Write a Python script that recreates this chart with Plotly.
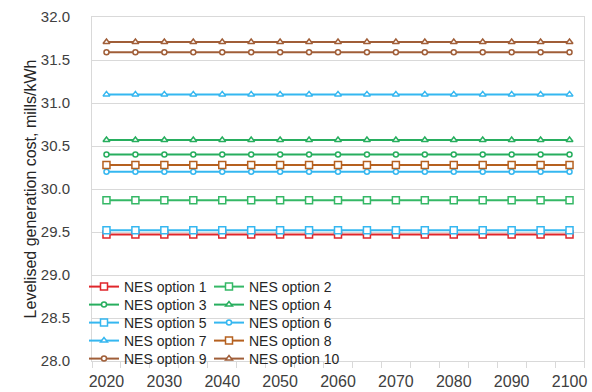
import plotly.graph_objects as go

# Years on the category axis (every 5 years)
years = list(range(2020, 2101, 5))

# Levelised generation cost for each option (flat over time), mills/kWh
option_names = [f"NES option {i}" for i in range(1, 11)]
option_costs = [29.47, 29.87, 30.40, 30.57, 29.52, 30.20, 31.10, 30.28, 31.59, 31.71]

# Styling per option
colors = ["#E0262B", "#35B866", "#27AE5E", "#27AE5E", "#35B7F0",
          "#35B7F0", "#35B7F0", "#B5601F", "#A05E38", "#A05E38"]
symbols = ["square", "square", "circle", "triangle-up", "square",
           "circle", "triangle-up", "square", "circle", "triangle-up"]
sizes = {"square": 7, "circle": 5, "triangle-up": 6}

x_labels = list(range(2020, 2101, 10))
y_ticks = [28.0, 28.5, 29.0, 29.5, 30.0, 30.5, 31.0, 31.5, 32.0]

FONT = "Liberation Sans, Arial, sans-serif"
TEXT = "#404040"
GRID = "#D9D9D9"

# Plot-area geometry in pixels, used to place the legend grid
W, H = 592, 392
M_L, M_R, M_T, M_B = 92, 8, 17, 31
PW, PH = W - M_L - M_R, H - M_T - M_B

# Legend laid out as two columns of five rows (row-major order)
col_px = [84, 209]
row_px = [287, 305, 323, 341, 359]

fig = go.Figure()
legends = {}
for i, (name, cost) in enumerate(zip(option_names, option_costs)):
    key = "legend" if i == 0 else f"legend{i + 1}"
    fig.add_trace(go.Scatter(
        x=years,
        y=[cost] * len(years),
        mode="lines+markers",
        name=name,
        legend=key,
        line=dict(color=colors[i], width=2),
        marker=dict(symbol=symbols[i], size=sizes[symbols[i]], color="white",
                    line=dict(color=colors[i], width=1.5)),
    ))
    cx = col_px[i % 2]
    cy = row_px[i // 2]
    legends[key] = dict(
        bgcolor="rgba(0,0,0,0)",
        font=dict(family=FONT, size=14, color="#262626"),
        itemwidth=30,
        xanchor="left",
        yanchor="middle",
        x=(cx - M_L) / PW,
        y=(H - M_B - cy) / PH,
    )

fig.update_layout(
    width=W,
    height=H,
    margin=dict(l=M_L, r=M_R, t=M_T, b=M_B, autoexpand=False),
    paper_bgcolor="white",
    plot_bgcolor="white",
    font=dict(family=FONT, color=TEXT),
    showlegend=True,
    **legends,
    xaxis=dict(
        range=[2017.5, 2102.5],
        tickvals=x_labels,
        ticktext=[str(v) for v in x_labels],
        ticks="",
        showgrid=False,
        zeroline=False,
        showline=True,
        linecolor=GRID,
        linewidth=1,
        mirror=True,
        automargin=False,
        ticklabelstandoff=6,
        tickfont=dict(family=FONT, size=16, color=TEXT),
        minor=dict(tick0=2017.5, dtick=5, ticks="outside", ticklen=6,
                   tickcolor=GRID, tickwidth=1, showgrid=False),
    ),
    yaxis=dict(
        range=[28.0, 32.0],
        tickvals=y_ticks,
        ticktext=[f"{v:.1f}" for v in y_ticks],
        ticks="",
        showgrid=True,
        gridcolor=GRID,
        gridwidth=1,
        zeroline=False,
        showline=True,
        linecolor=GRID,
        linewidth=1,
        mirror=True,
        automargin=False,
        tickfont=dict(family=FONT, size=15, color=TEXT),
        ticklabelstandoff=18,
        title=dict(text="Levelised generation cost, mills/kWh",
                   font=dict(family=FONT, size=16, color="#262626"),
                   standoff=0),
    ),
)

fig.write_html("out.html")
